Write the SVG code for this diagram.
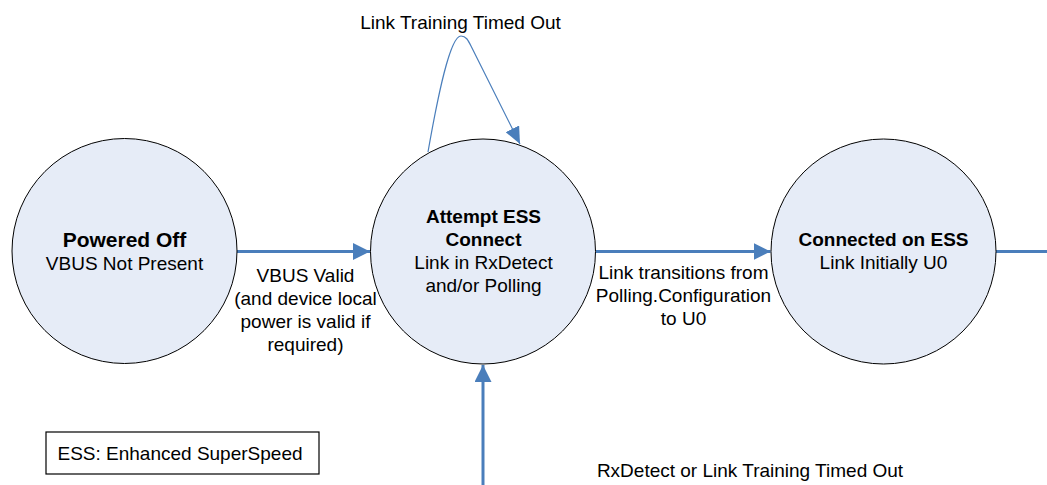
<svg xmlns="http://www.w3.org/2000/svg" width="1047" height="485" viewBox="0 0 1047 485">
  <style>
    .state { fill: #E6ECF7; stroke: #000; stroke-width: 1; }
    .t { font-family: "Liberation Sans", Arial, sans-serif; font-size: 19px; fill: #000; text-anchor: middle; }
    .b { font-weight: bold; }
    .edge { fill: none; stroke: #4A7EBB; stroke-width: 3; }
    .thin { fill: none; stroke: #4A7EBB; stroke-width: 1.2; }
    .legend { fill: #fff; stroke: #000; stroke-width: 1.2; }
  </style>
  <defs>
    <marker id="ah" markerUnits="userSpaceOnUse" markerWidth="18" markerHeight="17" refX="17" refY="8.5" orient="auto">
      <path d="M0,0 L17,8.5 L0,17 z" fill="#4A7EBB"/>
    </marker>
    <marker id="ahs" markerUnits="userSpaceOnUse" markerWidth="18" markerHeight="15" refX="17" refY="7.5" orient="auto">
      <path d="M0,0 L17,7.5 L0,15 z" fill="#4A7EBB"/>
    </marker>
  </defs>
  <rect width="1047" height="485" fill="#fff"/>

  <g id="connectors">
    <line class="edge" x1="237" y1="251.5" x2="370" y2="251.5" marker-end="url(#ah)"/>
    <line class="edge" x1="596" y1="251.5" x2="770.5" y2="251.5" marker-end="url(#ah)"/>
    <line class="edge" x1="996" y1="251.5" x2="1047" y2="251.5"/>
    <line class="edge" x1="483" y1="485" x2="483" y2="365" marker-end="url(#ah)"/>
    <path class="thin" d="M428,152 C438,95 450,36 461,36 C466,36 468,40 471,46 L520,144" marker-end="url(#ahs)"/>
  </g>

  <g id="labels">
    <text class="t" x="460.5" y="29">Link Training Timed Out</text>
    <text class="t" x="305.5" y="281.5">VBUS Valid</text>
    <text class="t" x="305.5" y="304.5">(and device local</text>
    <text class="t" x="305.5" y="327.5">power is valid if</text>
    <text class="t" x="305.5" y="350.5">required)</text>
    <text class="t" x="683.5" y="278.5">Link transitions from</text>
    <text class="t" x="683.5" y="301.5">Polling.Configuration</text>
    <text class="t" x="683.5" y="324.5">to U0</text>
    <text class="t" x="750" y="476.5">RxDetect or Link Training Timed Out</text>
  </g>

  <g id="powered-off">
    <circle class="state" cx="124.5" cy="251" r="112.5"/>
    <text class="t b" x="124.5" y="246.5" style="font-size:21px">Powered Off</text>
    <text class="t" x="124.5" y="269.5">VBUS Not Present</text>
  </g>

  <g id="attempt-ess-connect">
    <circle class="state" cx="483" cy="251.5" r="112.5"/>
    <text class="t b" x="483.5" y="222.5">Attempt ESS</text>
    <text class="t b" x="483.5" y="245.5">Connect</text>
    <text class="t" x="483.5" y="268.5">Link in RxDetect</text>
    <text class="t" x="483.5" y="291.5">and/or Polling</text>
  </g>

  <g id="connected-on-ess">
    <circle class="state" cx="883.5" cy="251.5" r="112.5"/>
    <text class="t b" x="883.5" y="246">Connected on ESS</text>
    <text class="t" x="883.5" y="268.5">Link Initially U0</text>
  </g>

  <g id="legend">
    <rect class="legend" x="46" y="432" width="273" height="42"/>
    <text class="t" x="180" y="460">ESS: Enhanced SuperSpeed</text>
  </g>
</svg>
